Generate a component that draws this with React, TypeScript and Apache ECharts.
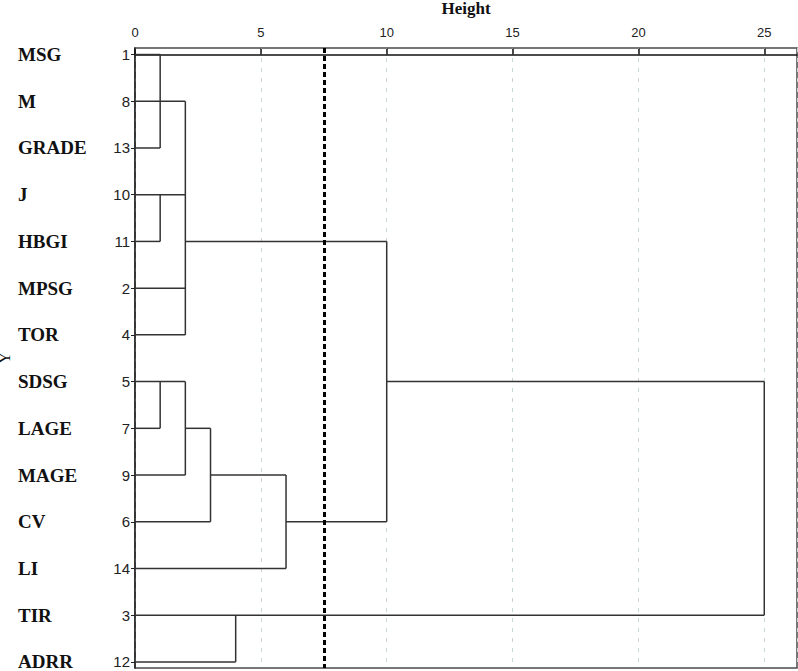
import React, { useEffect, useRef } from "react";
import * as echarts from "echarts";

// Leaves in dendrogram order (top to bottom)
const leafNames = ["MSG", "M", "GRADE", "J", "HBGI", "MPSG", "TOR", "SDSG", "LAGE", "MAGE", "CV", "LI", "TIR", "ADRR"];
const leafIds = [1, 8, 13, 10, 11, 2, 4, 5, 7, 9, 6, 14, 3, 12];
const xTicks = [0, 5, 10, 15, 20, 25];
const rowIdx = leafIds.map((_, i) => i);

// Horizontal segments: [row, fromHeight, toHeight]
const hSegs = [
  [0, 0, 1], [1, 0, 2], [2, 0, 1], [3, 0, 2], [4, 0, 1], [4, 2, 10], [5, 0, 2], [6, 0, 2],
  [7, 0, 2], [7, 10, 25], [8, 0, 1], [8, 2, 3], [9, 0, 2], [9, 3, 6], [10, 0, 3], [10, 6, 10],
  [11, 0, 6], [12, 0, 25], [13, 0, 4],
];
// Vertical segments: [height, fromRow, toRow]
const vSegs = [
  [1, 0, 2], [2, 1, 6], [1, 3, 4], [1, 7, 8], [2, 7, 9], [3, 8, 10], [6, 9, 11], [10, 4, 10],
  [25, 7, 12], [4, 12, 13],
];
const cutHeight = 7.5;

export default function App() {
  const ref = useRef<HTMLDivElement>(null);
  useEffect(() => {
    document.body.style.margin = "0";
    if (!ref.current) return;
    const chart = echarts.init(ref.current, null, { renderer: "svg" });
    const segData = [
      ...hSegs.map(([r, a, b]) => [a, r, b, r]),
      ...vSegs.map(([x, a, b]) => [x, a, x, b]),
    ];
    chart.setOption({
      animation: false,
      backgroundColor: "#fff",
      grid: {
        left: 135, right: 1, top: 48, bottom: 3,
        containLabel: false,
        outerBoundsMode: "none",
        show: true, borderColor: "#4a4a4a", borderWidth: 1.5,
      },
      xAxis: {
        type: "value",
        position: "top",
        min: 0,
        max: 26.3,
        interval: 5,
        name: "Height",
        nameLocation: "middle",
        nameGap: 31,
        nameTextStyle: { fontFamily: "Liberation Serif", fontWeight: "bold", fontSize: 17, color: "#111" },
        axisLine: { show: true, lineStyle: { color: "#111", width: 1.5 } },
        axisTick: { show: true, length: 6, lineStyle: { color: "#111", width: 1.5 } },
        axisLabel: {
          showMaxLabel: false, margin: 9,
          fontFamily: "Liberation Sans", fontSize: 13, color: "#222",
        },
        splitLine: { show: true, lineStyle: { color: "#c8d6d9", type: [4, 6], width: 1 } },
      },
      yAxis: [
        {
          type: "value",
          inverse: true,
          min: -0.14,
          max: 13.13,
          position: "left",
          name: "Y",
          nameLocation: "middle",
          nameRotate: 90,
          nameGap: 123,
          nameTextStyle: { fontFamily: "Liberation Serif", fontSize: 16, color: "#111" },
          axisLine: { show: true, lineStyle: { color: "#222", width: 1.5 } },
          axisTick: { show: true, length: 4, customValues: rowIdx, lineStyle: { color: "#222" } },
          axisLabel: {
            customValues: rowIdx,
            margin: 5,
            fontFamily: "Liberation Sans",
            fontSize: 15,
            color: "#222",
            formatter: (v: number) => String(leafIds[Math.round(v)] ?? ""),
          },
          splitLine: { show: false },
        },
        {
          type: "value",
          inverse: true,
          min: -0.14,
          max: 13.13,
          position: "left",
          axisLine: { show: false },
          axisTick: { show: false },
          axisLabel: {
            customValues: rowIdx,
            margin: 117,
            align: "left",
            fontFamily: "Liberation Serif",
            fontWeight: "bold",
            fontSize: 19,
            color: "#111",
            formatter: (v: number) => leafNames[Math.round(v)] ?? "",
          },
          splitLine: { show: false },
        },
      ],
      series: [
        {
          type: "custom",
          xAxisIndex: 0,
          yAxisIndex: 0,
          clip: false,
          data: segData,
          encode: { x: [0, 2], y: [1, 3] },
          renderItem: (params: any, api: any) => {
            const p0 = api.coord([api.value(0), api.value(1)]);
            const p1 = api.coord([api.value(2), api.value(3)]);
            return {
              type: "line",
              shape: { x1: p0[0], y1: p0[1], x2: p1[0], y2: p1[1] },
              style: { stroke: "#333", lineWidth: 1.5 },
            };
          },
          markLine: {
            silent: true,
            symbol: ["none", "none"],
            label: { show: false },
            lineStyle: { color: "#000", type: [5, 3], width: 3 },
            data: [{ xAxis: cutHeight }],
          },
        },
      ],
    });
    return () => chart.dispose();
  }, []);
  return <div ref={ref} style={{ width: 798, height: 671 }} />;
}
